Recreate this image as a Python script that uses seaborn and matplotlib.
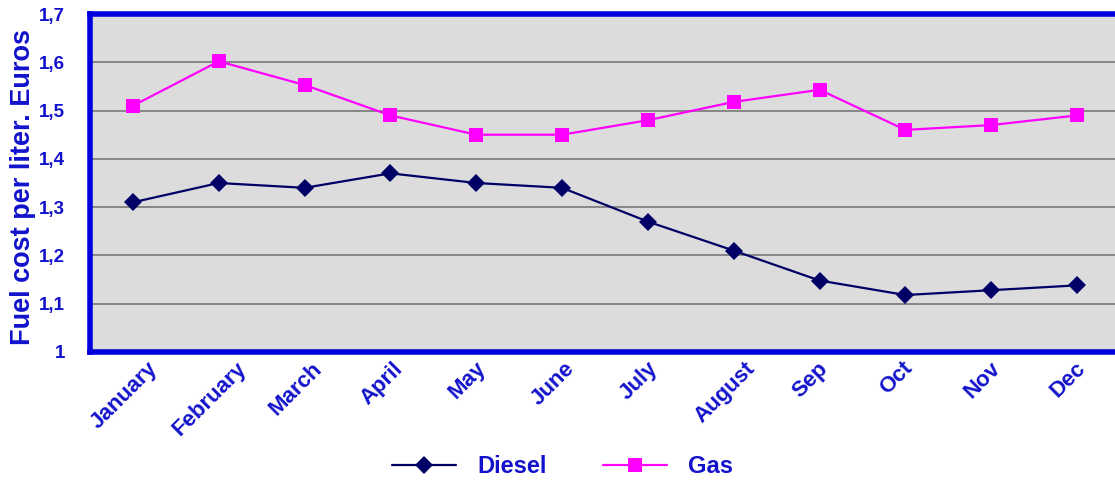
import matplotlib
matplotlib.use("Agg")
import matplotlib.pyplot as plt
import matplotlib.transforms as mtransforms
import seaborn as sns
import pandas as pd
import numpy as np
from matplotlib.ticker import FixedLocator, FuncFormatter

months = ["January", "February", "March", "April", "May", "June", "July",
          "August", "Sep", "Oct", "Nov", "Dec"]
diesel = [1.31, 1.35, 1.34, 1.37, 1.35, 1.34, 1.27, 1.21, 1.148, 1.118, 1.128, 1.138]
gas = [1.51, 1.602, 1.553, 1.49, 1.45, 1.45, 1.48, 1.518, 1.543, 1.46, 1.47, 1.49]
yticks = [1.0, 1.1, 1.2, 1.3, 1.4, 1.5, 1.6, 1.7]

df = pd.DataFrame({
    "idx": list(range(len(months))) * 2,
    "value": diesel + gas,
    "series": ["Diesel"] * len(months) + ["Gas"] * len(months),
})

sns.set_theme(style="white")
plt.rcParams['font.family'] = ['Liberation Sans', 'DejaVu Sans']

blue = "#1212cc"
spine_blue = "#0000dd"
fig = plt.figure(figsize=(11.15, 4.83), dpi=100)
ax = fig.add_axes([90/1115, 1 - 352/483, 1030/1115, (352 - 14)/483])
ax.set_facecolor("#dcdcdc")

sns.lineplot(data=df, x="idx", y="value", hue="series", style="series",
             palette={"Diesel": "#000066", "Gas": "#ff00ff"},
             markers={"Diesel": "D", "Gas": "s"}, dashes=False,
             markersize=9.5, linewidth=1.6, markeredgewidth=0, ax=ax)

ax.set_xlim(-0.5, len(months) - 0.5)
ax.set_ylim(1.0, 1.7)
ax.yaxis.set_major_locator(FixedLocator(yticks))
ax.yaxis.set_major_formatter(FuncFormatter(lambda v, p: ("%g" % round(v, 1)).replace(".", ",")))
ax.grid(axis="y", color="#808080", linewidth=1.3)
ax.set_axisbelow(True)

# category labels: rotated, bbox centred slightly left of each category, top aligned
ax.set_xticks(range(len(months)))
ax.set_xticklabels([])
blend = mtransforms.blended_transform_factory(ax.transData, ax.transAxes)
offset = mtransforms.ScaledTranslation(-9/100, -6/100, fig.dpi_scale_trans)
for i, m in enumerate(months):
    ax.text(i, 0, m, transform=blend + offset, rotation=45, ha="center", va="top",
            fontsize=16, fontweight="bold", color=blue, clip_on=False)
ax.set_xticks(np.arange(-0.5, len(months), 1), minor=True)
ax.tick_params(axis="x", which="major", length=0)
ax.tick_params(axis="x", which="minor", length=6, color="#808080", width=1, direction="out")
ax.tick_params(axis="y", length=7, color="#808080", width=1, direction="out",
               labelsize=13.5, labelcolor=blue, pad=11)
for lbl in ax.get_yticklabels():
    lbl.set_fontweight("bold")

ax.set_xlabel("")
ax.set_ylabel("Fuel cost per liter. Euros", fontsize=19.5, fontweight="bold",
              color=blue)
ax.yaxis.set_label_coords(-0.052, 0.488)

for side in ["left", "bottom", "top"]:
    ax.spines[side].set_visible(True)
    ax.spines[side].set_color(spine_blue)
    ax.spines[side].set_linewidth(4)
ax.spines["right"].set_visible(False)

handles, labels = ax.get_legend_handles_labels()
leg = ax.legend(handles, labels, loc="center", bbox_to_anchor=(0.459, -0.340),
                ncol=2, frameon=False, fontsize=17, handlelength=2.7,
                columnspacing=2.4, handletextpad=0.9, borderpad=0)
for t in leg.get_texts():
    t.set_color(blue)
    t.set_fontweight("bold")

fig.savefig("out.png", dpi=100)
